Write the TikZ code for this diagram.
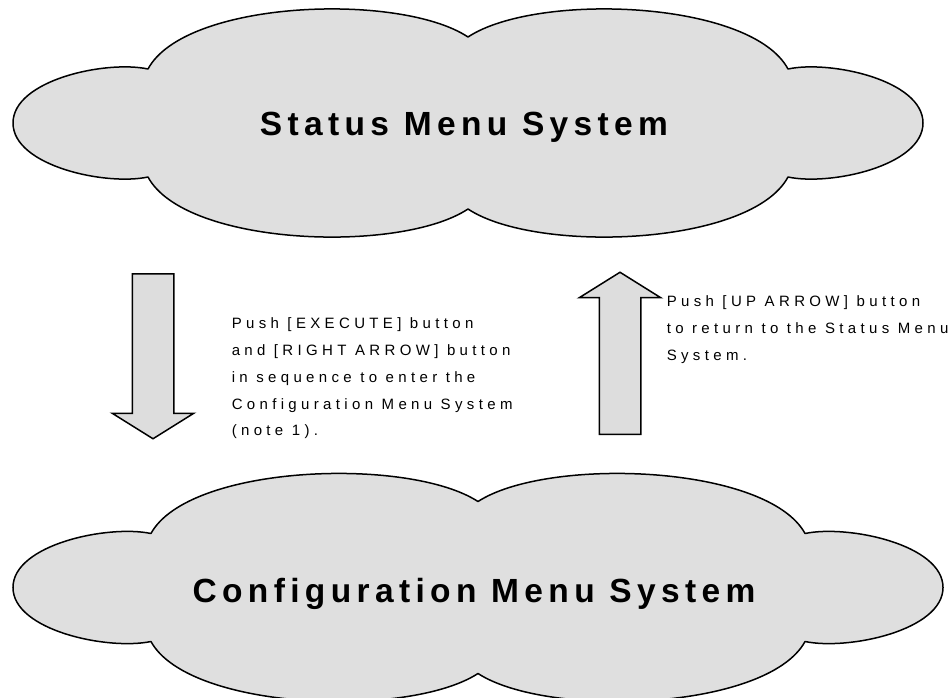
\documentclass[tikz,border=0pt]{standalone}
\usepackage{fontspec}
\setmainfont{Liberation Sans}
\newfontfamily\notefont[LetterSpace=29]{Liberation Sans}
\newfontfamily\titlefont[LetterSpace=16]{Liberation Sans}
\usetikzlibrary{shapes.arrows}
\definecolor{cloudgray}{HTML}{DFDFDF}
\definecolor{arrowgray}{HTML}{DDDDDD}
% outline of one cloud, centred on the origin
\newcommand{\cloudoutline}{(-320,-54) .. controls (-283,-123) and (-68,-131) .. (0,-86)
  .. controls (68,-131) and (283,-123) .. (320,-54)
  .. controls (362,-63) and (455,-43) .. (455,0)
  .. controls (455,43) and (362,63) .. (320,54)
  .. controls (283,123) and (68,131) .. (0,86)
  .. controls (-68,131) and (-283,123) .. (-320,54)
  .. controls (-362,63) and (-455,43) .. (-455,0)
  .. controls (-455,-43) and (-362,-63) .. (-320,-54) -- cycle}

\begin{document}
\begin{tikzpicture}[x=1pt,y=-1pt,line width=1.5pt,
    cloud/.style={draw,fill=cloudgray,line join=round},
    bigarrow/.style={single arrow,draw,fill=arrowgray,inner xsep=0pt,inner ysep=20pt,
      minimum width=80pt,anchor=tail,
      single arrow head extend=20pt,single arrow tip angle=116},
    title/.style={font=\titlefont\bfseries\fontsize{33.5}{40}\selectfont,anchor=base},
    note/.style={font=\notefont\fontsize{15}{26.8}\selectfont,align=left,
      anchor=north west,inner sep=0pt}]
  \useasboundingbox (0,0) rectangle (951,697);

  \draw[cloud,shift={(468,123)}] \cloudoutline;
  \draw[cloud,shift={(478,587.5)},xscale=1.022] \cloudoutline;

  \node[title] (S) at (464,135) {Status Menu System};
  \node[title] (C) at (474,602) {Configuration Menu System};

  \node[bigarrow,rotate=-90,minimum height=165pt] (D) at (153,273) {};
  \node[bigarrow,rotate=90,minimum height=162pt] (U) at (620,435) {};

  \node[note] (T1) at (231,317) {Push [EXECUTE] button\\and [RIGHT ARROW] button\\in sequence to enter the\\Configuration Menu System\\(note 1).};
  \node[note] (T2) at (666,295) {Push [UP ARROW] button\\to return to the Status Menu\\System.};
\end{tikzpicture}
\end{document}
